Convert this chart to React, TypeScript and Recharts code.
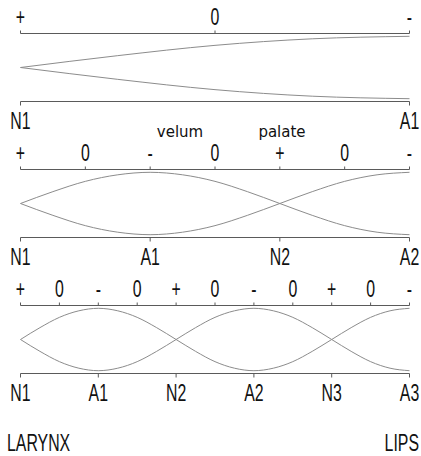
import { LineChart, Line, XAxis, YAxis } from 'recharts';

// Standing-wave envelopes in a tube closed at the larynx, open at the lips.
// x is measured in quarter wavelengths, y is pressure amplitude.

const P1_X = [0, 0.25, 0.5, 0.75, 1];
const P1_UPPER = [0, 0.38, 0.71, 0.92, 1];
const P1_LOWER = [0, -0.38, -0.71, -0.92, -1];
const P1_SIGN_TICKS = [0, 0.5, 1];
const P1_SIGNS = ['+', '0', '-'];
const P1_NODE_TICKS = [0, 1];
const P1_NODES = ['N1', 'A1'];

const P2_X = [0, 0.25, 0.5, 0.75, 1, 1.25, 1.5, 1.75, 2, 2.25, 2.5, 2.75, 3];
const P2_UPPER = [0, 0.38, 0.71, 0.92, 1, 0.92, 0.71, 0.38, 0, -0.38, -0.71, -0.92, -1];
const P2_LOWER = [0, -0.38, -0.71, -0.92, -1, -0.92, -0.71, -0.38, 0, 0.38, 0.71, 0.92, 1];
const P2_SIGN_TICKS = [0, 0.5, 1, 1.5, 2, 2.5, 3];
const P2_SIGNS = ['+', '0', '-', '0', '+', '0', '-'];
const P2_NODE_TICKS = [0, 1, 2, 3];
const P2_NODES = ['N1', 'A1', 'N2', 'A2'];

const P3_X = [
  0, 0.25, 0.5, 0.75, 1, 1.25, 1.5, 1.75, 2, 2.25, 2.5,
  2.75, 3, 3.25, 3.5, 3.75, 4, 4.25, 4.5, 4.75, 5,
];
const P3_UPPER = [
  0, 0.38, 0.71, 0.92, 1, 0.92, 0.71, 0.38, 0, -0.38, -0.71,
  -0.92, -1, -0.92, -0.71, -0.38, 0, 0.38, 0.71, 0.92, 1,
];
const P3_LOWER = [
  0, -0.38, -0.71, -0.92, -1, -0.92, -0.71, -0.38, 0, 0.38, 0.71,
  0.92, 1, 0.92, 0.71, 0.38, 0, -0.38, -0.71, -0.92, -1,
];
const P3_SIGN_TICKS = [0, 0.5, 1, 1.5, 2, 2.5, 3, 3.5, 4, 4.5, 5];
const P3_SIGNS = ['+', '0', '-', '0', '+', '0', '-', '0', '+', '0', '-'];
const P3_NODE_TICKS = [0, 1, 2, 3, 4, 5];
const P3_NODES = ['N1', 'A1', 'N2', 'A2', 'N3', 'A3'];

const AXIS = '#5a5a5a';
const CURVE = '#8c8c8c';
const NARROW = "'Liberation Sans', Arial, sans-serif";
const NARROW_SIZE = 23;
const SQUEEZE = 0.69;

function NarrowTick(props: any) {
  const { x, y, index, labels, top } = props;
  return (
    <text
      transform={`translate(${x},${y}) scale(${SQUEEZE},1)`}
      textAnchor="middle"
      dy={top ? 0 : '0.71em'}
      fontFamily={NARROW}
      fontSize={NARROW_SIZE}
      fill="#111"
    >
      {labels[index]}
    </text>
  );
}

interface PanelProps {
  top: number;
  xs: number[];
  upper: number[];
  lower: number[];
  signTicks: number[];
  signs: string[];
  nodeTicks: number[];
  nodes: string[];
}

function Panel({ top, xs, upper, lower, signTicks, signs, nodeTicks, nodes }: PanelProps) {
  const data = xs.map((x, i) => ({ x, upper: upper[i], lower: lower[i] }));
  const maxX = xs[xs.length - 1];
  return (
    <div style={{ position: 'absolute', left: 0, top }}>
      <LineChart
        width={421}
        height={135}
        data={data}
        margin={{ top: 0, right: 11.5, bottom: 0, left: 20.5 }}
      >
        <XAxis
          xAxisId="top"
          orientation="top"
          dataKey="x"
          type="number"
          domain={[0, maxX]}
          ticks={signTicks}
          interval={0}
          height={33.5}
          tickSize={3}
          tickMargin={5.5}
          axisLine={{ stroke: AXIS }}
          tickLine={{ stroke: AXIS }}
          tick={(p: any) => <NarrowTick {...p} labels={signs} top />}
        />
        <XAxis
          xAxisId="bottom"
          orientation="bottom"
          dataKey="x"
          type="number"
          domain={[0, maxX]}
          ticks={nodeTicks}
          interval={0}
          height={33.5}
          tickSize={4}
          tickMargin={7.5}
          axisLine={{ stroke: AXIS }}
          tickLine={{ stroke: AXIS }}
          tick={(p: any) => <NarrowTick {...p} labels={nodes} />}
        />
        <YAxis
          type="number"
          domain={[-1.09, 1.09]}
          width={0}
          tick={false}
          tickLine={false}
          axisLine={{ stroke: AXIS }}
        />
        <Line
          xAxisId="bottom"
          dataKey="upper"
          type="monotone"
          stroke={CURVE}
          strokeWidth={1}
          dot={false}
          isAnimationActive={false}
        />
        <Line
          xAxisId="bottom"
          dataKey="lower"
          type="monotone"
          stroke={CURVE}
          strokeWidth={1}
          dot={false}
          isAnimationActive={false}
        />
      </LineChart>
    </div>
  );
}

export default function App() {
  return (
    <div
      style={{
        position: 'absolute',
        left: 0,
        top: 0,
        width: 421,
        height: 456,
        background: '#fff',
        overflow: 'hidden',
      }}
    >
      <Panel
        top={0}
        xs={P1_X}
        upper={P1_UPPER}
        lower={P1_LOWER}
        signTicks={P1_SIGN_TICKS}
        signs={P1_SIGNS}
        nodeTicks={P1_NODE_TICKS}
        nodes={P1_NODES}
      />
      <Panel
        top={136}
        xs={P2_X}
        upper={P2_UPPER}
        lower={P2_LOWER}
        signTicks={P2_SIGN_TICKS}
        signs={P2_SIGNS}
        nodeTicks={P2_NODE_TICKS}
        nodes={P2_NODES}
      />
      <Panel
        top={272}
        xs={P3_X}
        upper={P3_UPPER}
        lower={P3_LOWER}
        signTicks={P3_SIGN_TICKS}
        signs={P3_SIGNS}
        nodeTicks={P3_NODE_TICKS}
        nodes={P3_NODES}
      />
      <svg
        width={421}
        height={456}
        style={{ position: 'absolute', left: 0, top: 0, pointerEvents: 'none' }}
      >
        <text x={180} y={136.5} textAnchor="middle" fontFamily="'DejaVu Sans', sans-serif" fontSize={15} fill="#111">
          velum
        </text>
        <text x={282} y={136.5} textAnchor="middle" fontFamily="'DejaVu Sans', sans-serif" fontSize={15} fill="#111">
          palate
        </text>
        <text
          transform={`translate(7,451) scale(${SQUEEZE},1)`}
          fontFamily={NARROW}
          fontSize={NARROW_SIZE}
          fill="#111"
        >
          LARYNX
        </text>
        <text
          transform={`translate(419,451) scale(${SQUEEZE},1)`}
          textAnchor="end"
          fontFamily={NARROW}
          fontSize={NARROW_SIZE}
          fill="#111"
        >
          LIPS
        </text>
      </svg>
    </div>
  );
}
